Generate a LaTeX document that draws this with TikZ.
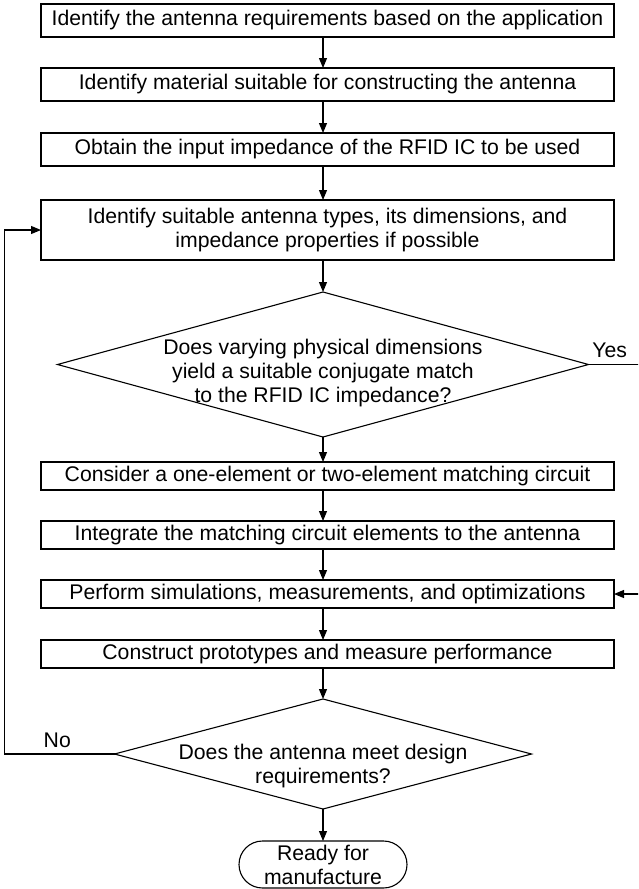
\documentclass[tikz,border=0pt]{standalone}
\usepackage{fontspec}
\setmainfont{Liberation Sans}
\usetikzlibrary{shapes,arrows.meta,positioning}
\tikzstyle{proc}=[rectangle,draw,line width=1.1pt,outer sep=0pt,align=center,minimum width=573pt,minimum height=28pt,inner sep=2pt]
\tikzstyle{tallproc}=[proc,minimum height=33pt]
\tikzstyle{dec}=[diamond,draw,line width=1.1pt,outer sep=0pt,align=center,inner xsep=-100pt,inner ysep=-30pt]
\tikzstyle{term}=[rounded rectangle,draw,line width=1.1pt,outer sep=0pt,align=center,minimum width=172pt,minimum height=47pt,inner sep=2pt]
\tikzstyle{arr}=[-{Triangle[length=10pt,width=8pt]},line width=1.1pt]

\begin{document}
\begin{tikzpicture}[x=1pt,y=-1pt,node distance=31pt,font=\fontsize{21.2}{24}\selectfont]
\useasboundingbox (0,0) rectangle (638,889);
\clip (0,0) rectangle (638,889);
\node[tallproc] (A) at (327.5,20.5) {Identify the antenna requirements based on the application};
\node[tallproc, below=of A] (B) {Identify material suitable for constructing the antenna};
\node[tallproc, below=32pt of B] (C) {Obtain the input impedance of the RFID IC to be used};
\node[proc, minimum height=60pt, below=34pt of C] (D) {Identify suitable antenna types, its dimensions, and\\impedance properties if possible};
\node[dec, minimum width=531pt, minimum height=145pt, below=32pt of D, xshift=-4.5pt] (E) {\rule{0pt}{32pt}Does varying physical dimensions\\yield a suitable conjugate match\\to the RFID IC impedance?};
\node[proc, below=25pt of E, xshift=4.5pt] (F) {Consider a one-element or two-element matching circuit};
\node[proc, below=of F] (G) {Integrate the matching circuit elements to the antenna};
\node[proc, below=of G] (H) {Perform simulations, measurements, and optimizations};
\node[proc, below=32pt of H] (I) {Construct prototypes and measure performance};
\node[dec, minimum width=417pt, minimum height=110pt, below=31pt of I, xshift=-4.5pt] (J) {\rule{0pt}{40pt}Does the antenna meet design\\requirements?};
\node[term, below=32pt of J] (K) {Ready for\\manufacture};
\draw[arr] (A.south -| E.north) -- (B.north -| E.north);
\draw[arr] (B.south -| E.north) -- (C.north -| E.north);
\draw[arr] (C.south -| E.north) -- (D.north -| E.north);
\draw[arr] (D.south -| E.north) -- (E.north);
\draw[arr] (E.south) -- (F.north -| E.south);
\draw[arr] (F.south -| E.south) -- (G.north -| E.south);
\draw[arr] (G.south -| E.south) -- (H.north -| E.south);
\draw[arr] (H.south -| E.south) -- (I.north -| E.south);
\draw[arr] (I.south -| J.north) -- (J.north);
\draw[arr] (J.south) -- (K.north);
\draw[arr] (E.east) -- node[above, pos=0.34, inner sep=6pt] {Yes} ++(62,0) |- (H.east);
\draw[arr] (J.west) -- node[above, pos=0.52, inner sep=6pt] {No} ++(-110,0) |- (D.west);
\end{tikzpicture}
\end{document}
